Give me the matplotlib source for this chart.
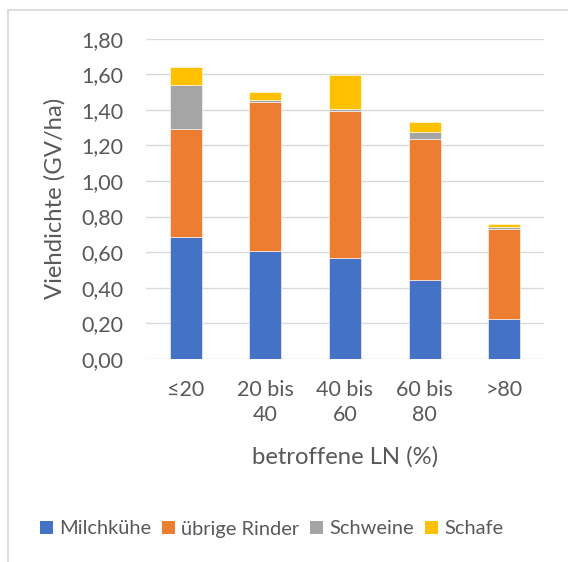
import matplotlib
matplotlib.use("Agg")
import matplotlib.pyplot as plt
from matplotlib.lines import Line2D
from matplotlib.patches import Patch
import numpy as np

# Livestock density by share of affected agricultural land (LN)
categories = ["\u226420", "20 bis\n40", "40 bis\n60", "60 bis\n80", ">80"]
milchkuehe = [0.683, 0.608, 0.568, 0.441, 0.225]
uebrige_rinder = [0.612, 0.835, 0.828, 0.794, 0.503]
schweine = [0.247, 0.011, 0.009, 0.043, 0.015]
schafe = [0.098, 0.045, 0.190, 0.054, 0.017]

series_names = ["Milchkühe", "übrige Rinder", "Schweine", "Schafe"]
series_values = [milchkuehe, uebrige_rinder, schweine, schafe]
series_colors = ["#4472C4", "#ED7D31", "#A5A5A5", "#FFC000"]

y_ticks = [0.0, 0.2, 0.4, 0.6, 0.8, 1.0, 1.2, 1.4, 1.6, 1.8]
y_label = "Viehdichte (GV/ha)"
x_label = "betroffene LN (%)"

plt.rcParams["font.family"] = ["Lato", "DejaVu Sans"]
text_color = "#595959"
grid_color = "#D9D9D9"
fs_tick = 15.5
fs_label = 17.2
fs_legend = 14.4

W, H = 568, 562
fig = plt.figure(figsize=(W / 100, H / 100), dpi=100)
fig.patch.set_facecolor("white")

# outer chart frame (partially visible)
fig.add_artist(Line2D([7.5 / W, 7.5 / W], [0, 1 - 10 / H], transform=fig.transFigure,
                      color=grid_color, lw=1.2))
fig.add_artist(Line2D([7.5 / W, 1], [1 - 10 / H, 1 - 10 / H], transform=fig.transFigure,
                      color=grid_color, lw=1.2))

left, right = 146 / W, 544 / W
bottom, top = 1 - 358.7 / H, 1 - 38.8 / H
ax = fig.add_axes([left, bottom, right - left, top - bottom])

x = np.arange(len(categories))
base = np.zeros(len(categories))
for name, vals, col in zip(series_names, series_values, series_colors):
    vals = np.asarray(vals)
    ax.bar(x, vals, width=0.4, bottom=base, color=col, label=name,
           edgecolor="white", linewidth=0.4, zorder=3)
    base = base + vals

ax.set_xlim(-0.5, len(categories) - 0.5)
ax.set_ylim(0, 1.8)
ax.set_yticks(y_ticks)
ax.set_yticklabels([f"{v:.2f}".replace(".", ",") for v in y_ticks])
ax.set_xticks(x)
ax.set_xticklabels(categories, linespacing=1.35)

ax.grid(axis="y", color=grid_color, lw=1.0, zorder=0)
ax.set_axisbelow(True)
for s in ax.spines.values():
    s.set_visible(False)
ax.tick_params(axis="both", length=0, labelsize=fs_tick, labelcolor=text_color)
ax.tick_params(axis="y", pad=16.5)
ax.tick_params(axis="x", pad=15)

ax.set_ylabel(y_label, fontsize=fs_label, color=text_color, labelpad=11)
ax.set_xlabel(x_label, fontsize=fs_label, color=text_color, labelpad=15)

handles = [Patch(facecolor=c, edgecolor="none") for c in series_colors]
fig.legend(handles, series_names, loc="center", bbox_to_anchor=(271.5 / W, 1 - 529 / H),
           ncol=4, frameon=False, fontsize=fs_legend, labelcolor=text_color,
           handlelength=0.66, handleheight=0.66, handletextpad=0.3,
           columnspacing=0.55, borderaxespad=0)

fig.savefig("out.png", dpi=100, facecolor="white")
